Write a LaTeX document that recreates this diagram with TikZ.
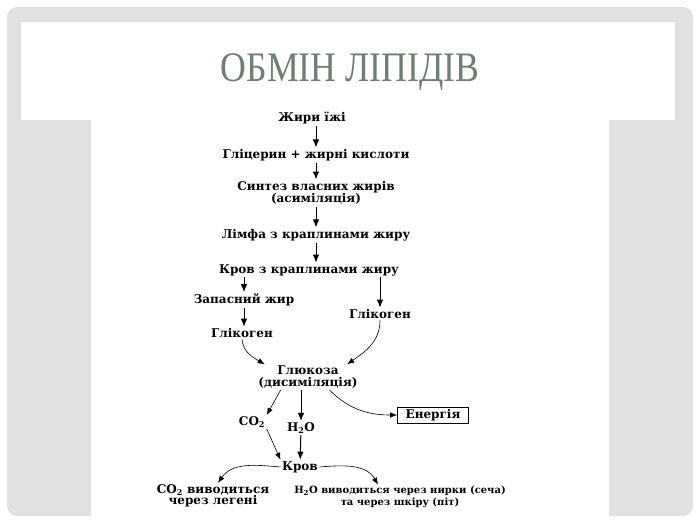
\documentclass[tikz,border=0pt]{standalone}
\usepackage{fontspec}
\setmainfont{DejaVu Serif}
\newfontfamily\titlefont{Liberation Serif}
\usepackage{tikz}
\usetikzlibrary{positioning,arrows.meta,calc}

\definecolor{panelgray}{RGB}{225,225,225}
\definecolor{titlegreen}{RGB}{110,126,114}

\begin{document}
\begin{tikzpicture}[x=1pt, y=-1pt,
  lbl/.style={font=\bfseries\fontsize{12}{11.5}\selectfont, align=center, inner sep=1.5pt},
  smalllbl/.style={lbl, font=\bfseries\fontsize{10}{11.5}\selectfont},
  boxlbl/.style={lbl, draw=black, line width=0.8pt, minimum width=71pt, minimum height=16pt},
  arr/.style={-{Latex[length=8pt, width=6.5pt]}, line width=1pt, black},
  carr/.style={-{Latex[length=7pt, width=5.5pt]}, line width=0.6pt, black}]
\useasboundingbox (0,0) rectangle (700,525);
% slide background
\fill[panelgray, rounded corners=10pt] (7,7) rectangle (693,516);
\fill[white] (21,22) rectangle (675,120);
\fill[white] (91,110) rectangle (609,518);
\node[text=titlegreen] (title) at (350,72) {\titlefont\fontsize{42}{42}\selectfont\scalebox{0.85}[1]{ОБМІН ЛІПІДІВ}};
% main chain
\node[lbl] (fat) at (312,118) {Жири їжі};
\node[lbl] (glyc) at (316,155) {Гліцерин + жирні кислоти};
\node[lbl] (synth) at (316,193) {Синтез власних жирів\\(асиміляція)};
\node[lbl] (lymph) at (316,235) {Лімфа з краплинами жиру};
\node[lbl] (blood) at (309,270) {Кров з краплинами жиру};
\node[lbl] (store) at (244,300) {Запасний жир};
\node[lbl] (glyL) at (242,333) {Глікоген};
\node[lbl] (glyR) at (380,314) {Глікоген};
\node[lbl] (gluc) at (308,377) {Глюкоза\\(дисиміляція)};
\node[lbl] (co2) at (252,422) {CO\textsubscript{2}};
\node[lbl] (h2o) at (301,428) {H\textsubscript{2}O};
\node[boxlbl] (energy) at (433,415) {Енергія};
\node[lbl] (blood2) at (300,467) {Кров};
\node[lbl] (outCO) at (213,496) {CO\textsubscript{2} виводиться\\через легені};
\node[smalllbl] (outH) at (400,497) {H\textsubscript{2}O виводиться через нирки (сеча)\\та через шкіру (піт)};
% connectors
\draw[arr] (fat.south -| glyc) -- (glyc);
\draw[arr] (glyc) -- (synth);
\draw[arr] (synth) -- (lymph);
\draw[arr] (lymph) -- (lymph |- blood.north);
\draw[arr] (blood.south -| store) -- (store);
\draw[arr] (blood.south -| glyR) -- (glyR);
\draw[arr] (store) -- (store |- glyL.north);
\draw[carr] (glyL.south) to[out=-85, in=150] ([xshift=8pt]gluc.north west);
\draw[carr] (glyR.south) to[out=-90, in=35] ([xshift=-12pt]gluc.north east);
\draw[carr] ([xshift=24pt]gluc.south west) -- (co2.north east);
\draw[arr] (gluc.south -| h2o) -- (h2o);
\draw[carr] ([xshift=-30pt]gluc.south east) to[out=-45, in=180] (energy.west);
\draw[carr] (co2.south east) -- (blood2.north west);
\draw[arr] (h2o) -- (blood2);
\draw[carr] (blood2.west) to[out=175, in=55] ([xshift=5pt]outCO.north);
\draw[carr] (blood2.east) to[out=5, in=120] ([xshift=-22pt]outH.north);
\end{tikzpicture}
\end{document}
